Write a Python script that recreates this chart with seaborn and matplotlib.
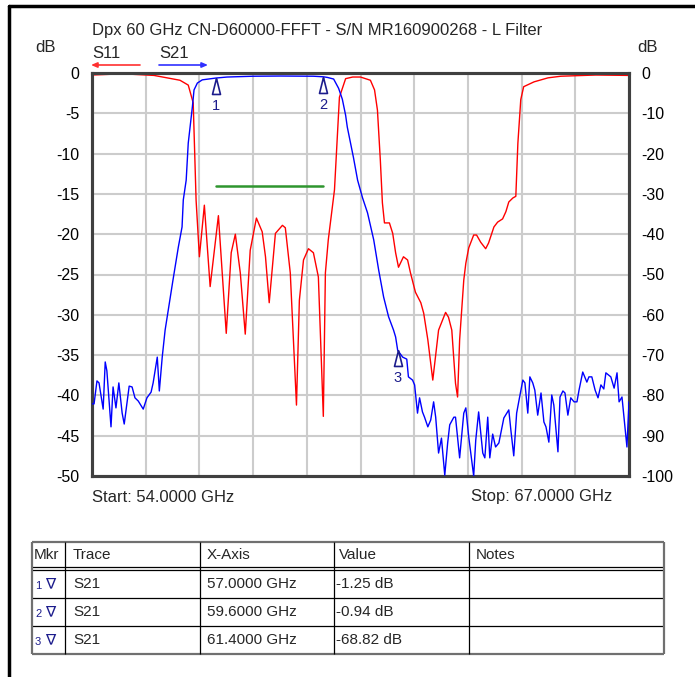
import numpy as np
import pandas as pd
import seaborn as sns
import matplotlib.pyplot as plt
from matplotlib.lines import Line2D

# S11 trace, left axis (dB)
s11_ghz = [54.00, 54.75, 55.50, 56.13, 56.33, 56.45, 56.52, 56.60, 56.72, 56.86,
           57.06, 57.25, 57.37, 57.47, 57.59, 57.71, 57.83, 57.98, 58.12, 58.20,
           58.29, 58.44, 58.61, 58.68, 58.80, 58.95, 59.02, 59.12, 59.24, 59.36,
           59.48, 59.60, 59.65, 59.72, 59.87, 59.99, 60.14, 60.31, 60.50, 60.74,
           60.84, 60.91, 60.98, 61.03, 61.08, 61.20, 61.28, 61.35, 61.42, 61.54,
           61.64, 61.71, 61.83, 61.96, 62.03, 62.13, 62.25, 62.39, 62.56, 62.63,
           62.71, 62.80, 62.85, 62.90, 63.00, 63.05, 63.12, 63.24, 63.31, 63.41,
           63.53, 63.60, 63.73, 63.82, 63.94, 64.02, 64.09, 64.19, 64.26, 64.31,
           64.38, 64.45, 64.70, 65.04, 65.35, 66.20, 67.00]
s11_db = [-0.25, -0.1, -0.3, -0.9, -1.5, -3.7, -15.8, -22.8, -16.4, -26.5,
          -17.7, -32.3, -22.3, -20.0, -24.8, -32.4, -22.0, -18.0, -19.7, -22.8,
          -28.5, -19.9, -18.9, -19.2, -24.8, -41.2, -28.2, -23.2, -21.8, -22.3,
          -25.3, -42.6, -24.8, -20.7, -14.5, -3.0, -0.7, -0.5, -0.5, -0.9,
          -2.1, -4.6, -10.8, -16.1, -18.6, -18.6, -19.9, -22.3, -24.1, -22.8,
          -23.2, -24.8, -27.2, -28.5, -29.8, -33.1, -38.1, -31.9, -29.7, -30.3,
          -31.9, -38.5, -40.2, -33.1, -25.7, -23.6, -21.7, -20.1, -20.1, -21.0,
          -21.8, -21.1, -19.1, -18.5, -18.1, -17.2, -16.0, -15.5, -15.3, -8.7,
          -3.3, -1.7, -1.1, -0.6, -0.4, -0.25, -0.3]

# S21 trace, right axis (dB)
s21_ghz = [54.00, 54.05, 54.12, 54.17, 54.27, 54.32, 54.36, 54.46, 54.51, 54.58,
           54.65, 54.73, 54.78, 54.90, 54.97, 55.04, 55.12, 55.24, 55.33, 55.43,
           55.48, 55.58, 55.63, 55.70, 55.77, 55.82, 55.96, 56.09, 56.18, 56.21,
           56.28, 56.33, 56.43, 56.47, 56.55, 56.67, 56.93, 57.00, 57.27, 57.90,
           58.56, 59.36, 59.60, 59.70, 59.85, 59.97, 60.06, 60.14, 60.18, 60.33,
           60.43, 60.55, 60.67, 60.82, 60.94, 61.06, 61.18, 61.30, 61.35, 61.40,
           61.52, 61.62, 61.66, 61.76, 61.81, 61.88, 61.93, 62.00, 62.05, 62.13,
           62.20, 62.27, 62.32, 62.39, 62.46, 62.54, 62.61, 62.66, 62.76, 62.80,
           62.90, 63.00, 63.05, 63.12, 63.24, 63.29, 63.36, 63.46, 63.51, 63.58,
           63.63, 63.70, 63.77, 63.85, 63.97, 64.09, 64.14, 64.21, 64.28, 64.33,
           64.43, 64.48, 64.55, 64.60, 64.67, 64.72, 64.79, 64.87, 64.94, 64.99,
           65.06, 65.13, 65.18, 65.28, 65.33, 65.40, 65.45, 65.52, 65.59, 65.67,
           65.74, 65.79, 65.88, 65.98, 66.03, 66.10, 66.18, 66.25, 66.32, 66.39,
           66.44, 66.56, 66.64, 66.71, 66.76, 66.83, 66.95, 67.00]
s21_db = [-82.1, -82.1, -76.4, -76.9, -83.4, -71.7, -73.9, -87.8, -77.9, -83.1,
          -76.9, -84.4, -87.1, -77.7, -77.9, -80.6, -81.4, -83.4, -80.6, -79.2,
          -76.9, -70.5, -78.9, -70.5, -63.8, -60.5, -51.4, -43.2, -38.2, -31.5,
          -26.6, -17.4, -8.4, -4.2, -2.5, -1.7, -1.35, -1.25, -1.0, -0.8,
          -0.75, -0.8, -0.94, -1.1, -1.5, -3.8, -6.5, -10.5, -13.4, -21.0,
          -26.6, -31.0, -34.7, -41.4, -48.9, -55.6, -60.5, -63.8, -65.5, -68.8,
          -70.5, -71.0, -75.4, -76.2, -77.4, -84.4, -80.6, -84.1, -85.4, -87.8,
          -86.1, -81.6, -85.4, -94.3, -90.6, -99.8, -91.8, -87.3, -85.4, -85.4,
          -95.5, -84.4, -83.1, -90.3, -100.0, -91.1, -84.1, -94.3, -95.5, -85.4,
          -95.5, -89.6, -92.8, -91.8, -85.6, -83.6, -88.6, -95.0, -84.4, -81.6,
          -76.2, -76.9, -84.4, -75.4, -76.9, -78.7, -84.9, -79.4, -86.6, -87.8,
          -91.6, -79.9, -82.4, -94.0, -80.4, -78.9, -79.4, -84.9, -80.6, -81.6,
          -81.6, -78.7, -74.2, -76.7, -75.4, -75.4, -78.7, -80.6, -77.4, -78.4,
          -74.4, -75.4, -78.2, -74.4, -81.6, -80.4, -92.8, -81.6]

# markers (all on S21)
mkr_id = ['1', '2', '3']
mkr_trace = ['S21', 'S21', 'S21']
mkr_ghz = [57.0, 59.6, 61.4]
mkr_db = [-1.25, -0.94, -68.82]

# limit line (S11 scale)
lim_ghz = [57.0, 59.6]
lim_db = [-14.0, -14.0]

left_ticks = list(range(0, -55, -5))
right_ticks = list(range(0, -110, -10))
title = 'Dpx 60 GHz CN-D60000-FFFT - S/N MR160900268 - L Filter'

W, H = 695, 677
def fx(px):
    return px / W
def fy(py):
    return 1 - py / H

sns.set_style('white')
plt.rcParams['font.family'] = ['Liberation Sans', 'DejaVu Sans']

fig = plt.figure(figsize=(6.95, 6.77), dpi=100, facecolor='white')
ax = fig.add_axes([fx(92), fy(476), fx(629) - fx(92), fy(73) - fy(476)])
ax2 = ax.twinx()

df11 = pd.DataFrame({'ghz': s11_ghz, 'db': s11_db})
df21 = pd.DataFrame({'ghz': s21_ghz, 'db': s21_db})
sns.lineplot(data=df11, x='ghz', y='db', ax=ax, color='#ff0000', lw=1.0,
             estimator=None, zorder=3)
sns.lineplot(data=df21, x='ghz', y='db', ax=ax2, color='#0000ff', lw=1.0,
             estimator=None, zorder=3)
ax.plot(lim_ghz, lim_db, color='#2e952e', lw=1.8, zorder=3)

# marker triangles, apex on the trace
tri = [(0, 0), (-0.25, -1), (0.25, -1), (0, 0)]
ax2.plot(mkr_ghz, mkr_db, ls='none', marker=tri, ms=23, mfc='none',
         mec='#1c1c8c', mew=1.2, zorder=4)
for i, g, d in zip(mkr_id, mkr_ghz, mkr_db):
    ax2.annotate(i, (g, d), xytext=(0, -20), textcoords='offset points',
                 ha='center', va='center', color='#1c1c8c', fontsize=10.5)

ax.set_xlim(54, 67)
ax.set_ylim(-50, 0)
ax2.set_ylim(-100, 0)
ax.set_xticks(np.linspace(54, 67, 11))
ax.set_xticklabels([])
ax.set_yticks(left_ticks)
ax.set_yticklabels([str(t) for t in left_ticks])
ax2.set_yticks(right_ticks)
ax2.set_yticklabels([str(t) for t in right_ticks])
ax.grid(True, color='#cccccc', lw=1.5)
ax.set_axisbelow(True)
ax2.grid(False)
for a in (ax, ax2):
    a.set_xlabel('')
    a.set_ylabel('')
    a.tick_params(axis='both', length=0, labelsize=11.5, pad=9, colors='black')
    for s in a.spines.values():
        s.set_color('#404040')
        s.set_linewidth(2.2)

# header texts
fig.text(fx(92), fy(30), title, ha='left', va='center', fontsize=12)
fig.text(fx(45), fy(48), 'dB', ha='center', va='center', fontsize=12)
fig.text(fx(647), fy(48), 'dB', ha='center', va='center', fontsize=12)
fig.text(fx(92), fy(53), 'S11', ha='left', va='center', fontsize=12)
fig.text(fx(159), fy(53), 'S21', ha='left', va='center', fontsize=12)
fig.text(fx(92), fy(497), 'Start: 54.0000 GHz', ha='left', va='center', fontsize=12)
fig.text(fx(612), fy(497), 'Stop: 67.0000 GHz', ha='right', va='center', fontsize=12)

ax.annotate('', xy=(91, H - 65), xytext=(140, H - 65), xycoords='figure pixels',
            textcoords='figure pixels',
            arrowprops=dict(arrowstyle='-|>,head_length=0.35,head_width=0.15',
                            color='#ff3030', lw=1.2, shrinkA=0, shrinkB=0))
ax.annotate('', xy=(208, H - 65), xytext=(159, H - 65), xycoords='figure pixels',
            textcoords='figure pixels',
            arrowprops=dict(arrowstyle='-|>,head_length=0.35,head_width=0.15',
                            color='#3030ff', lw=1.2, shrinkA=0, shrinkB=0))

# outer frame
fig.add_artist(Line2D([fx(9), fx(9)], [fy(6), 0], color='black', lw=2.5))
fig.add_artist(Line2D([fx(9), 1], [fy(6), fy(6)], color='black', lw=2.5))

# marker table
cols = [32, 65, 200, 334, 469, 664]
rows = [542, 567, 570, 598, 626, 654]
tax = fig.add_axes([fx(25), fy(660), fx(670) - fx(25), fy(536) - fy(660)])
tax.set_xlim(25, 670)
tax.set_ylim(660, 536)
tax.axis('off')
tax.hlines([rows[0], rows[-1]], cols[0], cols[-1], color='#707070', lw=1.6)
tax.hlines(rows[1:-1], cols[0], cols[-1], color='black', lw=0.9)
tax.vlines([cols[0], cols[-1]], rows[0], rows[-1], color='#707070', lw=1.6)
tax.vlines(cols[1:-1], rows[0], rows[-1], color='black', lw=0.9)
headers = ['Mkr', 'Trace', 'X-Axis', 'Value', 'Notes']
hx = [34, 73, 207, 339, 476]
for h, x in zip(headers, hx):
    tax.text(x, 555, h, ha='left', va='center', fontsize=11)
row_mid = [584, 612, 640]
for k in range(len(mkr_id)):
    y = row_mid[k]
    tax.text(35, y + 2, mkr_id[k], ha='left', va='center', fontsize=8, color='#1c1c8c')
    tax.text(45, y, '\u2207', ha='left', va='center', fontsize=11, color='#1c1c8c',
             family=['DejaVu Sans'])
    tax.text(73, y, mkr_trace[k], ha='left', va='center', fontsize=11)
    tax.text(207, y, f'{mkr_ghz[k]:.4f} GHz', ha='left', va='center', fontsize=11)
    tax.text(336, y, f'{mkr_db[k]:.2f} dB', ha='left', va='center', fontsize=11)

fig.savefig('out.png', dpi=100, facecolor='white')
